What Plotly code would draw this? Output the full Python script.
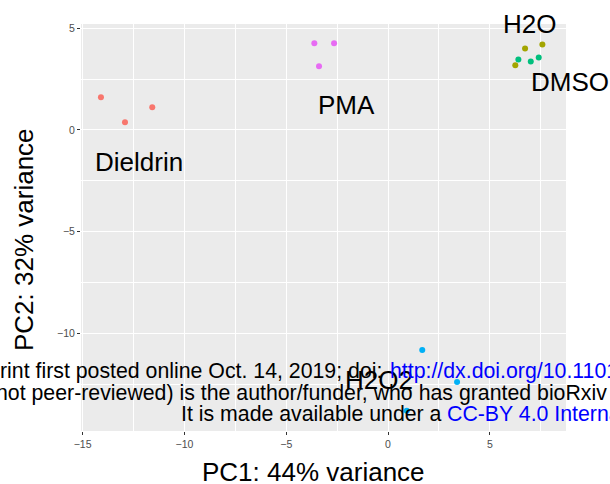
import plotly.graph_objects as go

# PCA scores
groups = ['Dieldrin', 'DMSO', 'H2O', 'H2O2', 'PMA']
colors = ['#F8766D', '#A3A500', '#00BF7D', '#00B0F6', '#E76BF3']
pc1 = {
    'Dieldrin': [-14.1, -12.92, -11.58],
    'DMSO': [6.73, 7.58, 6.25],
    'H2O': [6.40, 7.01, 7.40],
    'H2O2': [1.68, 3.39, 0.92],
    'PMA': [-3.62, -2.65, -3.39],
}
pc2 = {
    'Dieldrin': [1.6, 0.38, 1.11],
    'DMSO': [4.0, 4.19, 3.17],
    'H2O': [3.46, 3.36, 3.56],
    'H2O2': [-10.8, -12.37, -13.79],
    'PMA': [4.25, 4.25, 3.12],
}

# group labels (DMSO sits on the right edge, so it is anchored by its left side)
label_text = ['Dieldrin', 'PMA', 'H2O', 'DMSO', 'H2O2']
label_x = [-12.24, -2.05, 6.94, 6.94, -0.43]
label_y = [-1.57, 1.24, 5.19, 2.37, -12.26]
label_anchor = ['center', 'center', 'center', 'left', 'center']

x_ticks = [-15, -10, -5, 0, 5]
y_ticks = [-10, -5, 0, 5]

fig = go.Figure()
for g, c in zip(groups, colors):
    fig.add_trace(go.Scatter(x=pc1[g], y=pc2[g], mode='markers', name=g,
                             marker=dict(color=c, size=6, line=dict(width=0)),
                             showlegend=False))

for t, lx, ly, a in zip(label_text, label_x, label_y, label_anchor):
    fig.add_annotation(text=t, x=lx, y=ly, xref='x', yref='y', xanchor=a, yanchor='middle',
                       showarrow=False, font=dict(size=26, color='black'))

axis_style = dict(showgrid=True, gridcolor='white', gridwidth=1.1,
                  zeroline=False, showline=False,
                  ticks='outside', ticklen=3, tickwidth=1, tickcolor='#333333',
                  tickfont=dict(size=10.5, color='#4D4D4D'),
                  minor=dict(showgrid=True, gridcolor='white', gridwidth=0.5, dtick=2.5, tick0=0))

fig.update_xaxes(range=[-15.08, 8.74], tickvals=x_ticks, **axis_style)
fig.update_yaxes(range=[-14.78, 5.2], tickvals=y_ticks, **axis_style)

font = 'Liberation Sans, Arial, sans-serif'
fig.update_layout(
    width=610, height=484,
    margin=dict(l=81, r=44, t=24, b=53),
    plot_bgcolor='#EBEBEB', paper_bgcolor='white',
    font=dict(family=font),
)

# axis titles
fig.add_annotation(text='PC1: 44% variance', xref='paper', yref='paper',
                   x=(313 - 81) / 485, y=(431 - 471.5) / 407, xanchor='center', yanchor='middle',
                   showarrow=False, font=dict(size=26, color='black'))
fig.add_annotation(text='PC2: 32% variance', xref='paper', yref='paper',
                   x=(24 - 81) / 485, y=(431 - 240) / 407, xanchor='center', yanchor='middle',
                   textangle=-90, showarrow=False, font=dict(size=26, color='black'))

# bioRxiv watermark lying over the plot
wm = dict(size=21.3, color='black')
blue = dict(size=21.3, color='#0000FF')
fig.add_annotation(text='rint first posted online Oct. 14, 2019; doi:',
                   xref='paper', yref='paper', x=(384 - 81) / 485, y=(431 - 371.3) / 407,
                   xanchor='right', yanchor='middle', showarrow=False, font=wm)
fig.add_annotation(text='http://dx.doi.org/10.1101/801266.',
                   xref='paper', yref='paper', x=(388 - 81) / 485, y=(431 - 371.3) / 407,
                   xanchor='left', yanchor='middle', showarrow=False, font=blue)
fig.add_annotation(text='not peer-reviewed) is the author/funder, who has granted bioRxiv',
                   xref='paper', yref='paper', x=(609 - 81) / 485, y=(431 - 393.3) / 407,
                   xanchor='right', yanchor='middle', showarrow=False, font=wm)
fig.add_annotation(text='It is made available under a',
                   xref='paper', yref='paper', x=(444 - 81) / 485, y=(431 - 413.7) / 407,
                   xanchor='right', yanchor='middle', showarrow=False, font=wm)
fig.add_annotation(text='CC-BY 4.0 International license.',
                   xref='paper', yref='paper', x=(445 - 81) / 485, y=(431 - 413.7) / 407,
                   xanchor='left', yanchor='middle', showarrow=False, font=blue)

fig.write_html("out.html", config={'displayModeBar': False},
               post_script="document.body.style.margin='0';")
